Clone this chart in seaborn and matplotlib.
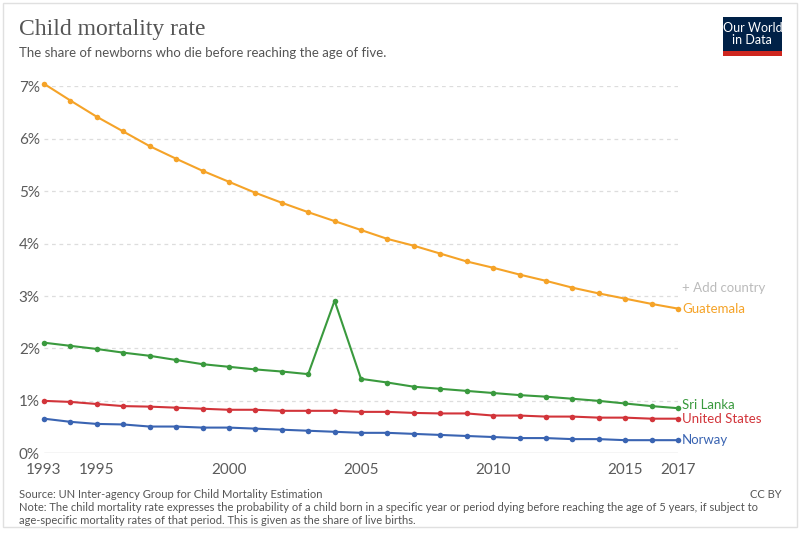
import matplotlib
matplotlib.use("Agg")
import matplotlib.pyplot as plt
import seaborn as sns
import pandas as pd
from matplotlib.patches import Rectangle

years = list(range(1993, 2018))
guatemala = [7.05, 6.73, 6.42, 6.14, 5.86, 5.62, 5.39, 5.18, 4.97, 4.78, 4.60, 4.43, 4.26,
             4.09, 3.96, 3.81, 3.66, 3.54, 3.41, 3.29, 3.16, 3.05, 2.95, 2.85, 2.76]
sri_lanka = [2.11, 2.05, 1.99, 1.92, 1.86, 1.78, 1.70, 1.65, 1.60, 1.56, 1.51, 2.91, 1.42,
             1.35, 1.27, 1.23, 1.19, 1.15, 1.11, 1.08, 1.04, 1.00, 0.95, 0.90, 0.86]
united_states = [1.00, 0.98, 0.94, 0.90, 0.89, 0.87, 0.85, 0.83, 0.83, 0.81, 0.81, 0.81, 0.79,
                 0.79, 0.77, 0.76, 0.76, 0.72, 0.72, 0.70, 0.70, 0.68, 0.68, 0.66, 0.66]
norway = [0.66, 0.60, 0.56, 0.55, 0.51, 0.51, 0.49, 0.49, 0.47, 0.45, 0.43, 0.41, 0.39,
          0.39, 0.37, 0.35, 0.33, 0.31, 0.29, 0.29, 0.27, 0.27, 0.25, 0.25, 0.25]
countries = ["Guatemala", "Sri Lanka", "United States", "Norway"]
colors = ["#f5a328", "#3a9a3e", "#d2343a", "#3a64b2"]
xticks = [1993, 1995, 2000, 2005, 2010, 2015, 2017]
yticks = [0, 1, 2, 3, 4, 5, 6, 7]

series = [guatemala, sri_lanka, united_states, norway]
df = pd.DataFrame({
    "year": years * 4,
    "value": sum(series, []),
    "country": sum([[c] * len(years) for c in countries], []),
})

sns.set_theme(style="white")
plt.rcParams['font.family'] = ['Lato', 'DejaVu Sans']

fig = plt.figure(figsize=(8, 5.4), dpi=100)
ax = fig.add_axes([0.055, 0.1606, 0.7925, 0.6794])

palette = dict(zip(countries, colors))
sns.lineplot(data=df, x="year", y="value", hue="country", palette=palette,
             marker="o", markersize=4, markeredgewidth=0, linewidth=1.5,
             legend=False, ax=ax, clip_on=False, zorder=3)

ax.set_xlim(1993, 2017)
ax.set_ylim(0, 7)
ax.set_xticks(xticks)
ax.set_xticklabels([str(t) for t in xticks], fontsize=11, color="#5b5b5b")
ax.set_yticks(yticks)
ax.set_yticklabels([f"{t}%" for t in yticks], fontsize=11, color="#5b5b5b")
ax.tick_params(axis="y", length=0, pad=3)
ax.tick_params(axis="x", length=0, pad=7)
ax.set_xlabel("")
ax.set_ylabel("")
for s in ax.spines.values():
    s.set_visible(False)
for t in yticks[1:]:
    ax.axhline(t, color="#dddddd", linestyle=(0, (3, 3)), linewidth=0.9, zorder=1)
ax.axhline(0, color="#cccccc", linewidth=1, zorder=1)

label_nudge = [0, 2.5, -0.5, 0]
for c, vals, col, dy in zip(countries, series, colors, label_nudge):
    ax.annotate(c, xy=(years[-1], vals[-1]), xytext=(3, dy), textcoords="offset points",
                va="center", ha="left", color=col, fontsize=9.5, annotation_clip=False)
ax.annotate("+ Add country", xy=(years[-1], 3.15), xytext=(3, 0), textcoords="offset points",
            va="center", ha="left", color="#bbbbbb", fontsize=9.5, annotation_clip=False)

fig.text(0.024, 0.935, "Child mortality rate", fontsize=17, color="#555555",
         family=["Liberation Serif", "DejaVu Serif"], va="baseline")
fig.text(0.024, 0.895, "The share of newborns who die before reaching the age of five.",
         fontsize=9.5, color="#555555", va="baseline")

# logo
fig.patches.append(Rectangle((0.904, 0.903), 0.073, 0.066, transform=fig.transFigure,
                             facecolor="#002147", edgecolor="none"))
fig.patches.append(Rectangle((0.904, 0.897), 0.073, 0.008, transform=fig.transFigure,
                             facecolor="#ce261e", edgecolor="none"))
fig.text(0.9405, 0.937, "Our World\nin Data", ha="center", va="center", color="white",
         fontsize=9, linespacing=1.0)

fig.text(0.024, 0.077, "Source: UN Inter-agency Group for Child Mortality Estimation",
         fontsize=8, color="#555555", va="baseline")
fig.text(0.024, 0.053, "Note: The child mortality rate expresses the probability of a child born in a specific year or period dying before reaching the age of 5 years, if subject to",
         fontsize=8, color="#555555", va="baseline")
fig.text(0.024, 0.030, "age-specific mortality rates of that period. This is given as the share of live births.",
         fontsize=8, color="#555555", va="baseline")
fig.text(0.977, 0.077, "CC BY", fontsize=8, color="#555555", va="baseline", ha="right")

fig.patches.append(Rectangle((0.004, 0.024), 0.992, 0.97, transform=fig.transFigure,
                             facecolor="none", edgecolor="#e0e0e0", linewidth=1))

fig.savefig("out.png", dpi=100)
